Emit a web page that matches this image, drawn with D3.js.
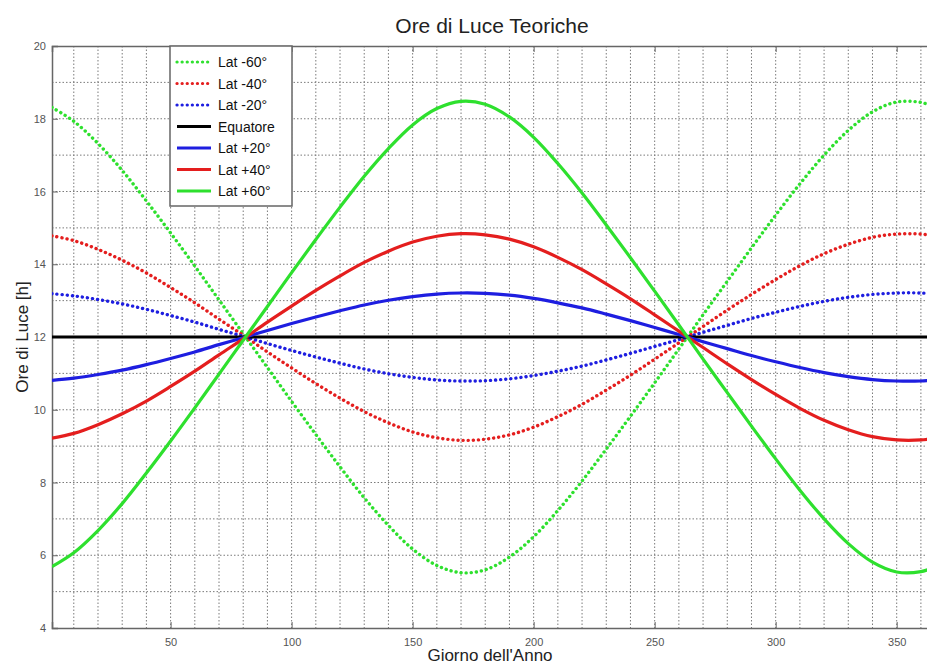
<!DOCTYPE html>
<html>
<head>
<meta charset="utf-8">
<script src="https://cdn.jsdelivr.net/npm/d3@7"></script>
<style>
  body { margin: 0; background: #fff; }
  svg { display: block; font-family: "Liberation Sans", Arial, sans-serif; }
</style>
</head>
<body>
<svg id="chart"></svg>
<script>
// giorni campionati
const days = [1, 10, 20, 30, 40, 50, 60, 70, 80, 90, 100, 110, 120, 130, 140, 150, 160, 170, 180,
  190, 200, 210, 220, 230, 240, 250, 260, 270, 280, 290, 300, 310, 320, 330, 340, 350, 360, 365];

const latP60 = [5.69, 6.07, 6.68, 7.42, 8.26, 9.14, 10.05, 10.98, 11.91, 12.84, 13.77, 14.68, 15.57,
  16.42, 17.18, 17.83, 18.28, 18.48, 18.40, 18.05, 17.49, 16.77, 15.96, 15.08, 14.18, 13.26, 12.33,
  11.39, 10.47, 9.55, 8.65, 7.79, 7.00, 6.32, 5.81, 5.54, 5.55, 5.66];
const latP40 = [9.22, 9.35, 9.59, 9.89, 10.24, 10.64, 11.06, 11.51, 11.95, 12.41, 12.85, 13.28, 13.68,
  14.05, 14.36, 14.61, 14.77, 14.84, 14.81, 14.69, 14.48, 14.19, 13.85, 13.46, 13.05, 12.61, 12.16,
  11.71, 11.26, 10.83, 10.42, 10.04, 9.71, 9.45, 9.26, 9.17, 9.17, 9.21];
const latP20 = [10.81, 10.87, 10.97, 11.09, 11.24, 11.41, 11.59, 11.79, 11.98, 12.18, 12.37, 12.55, 12.72,
  12.88, 13.01, 13.11, 13.18, 13.21, 13.20, 13.15, 13.06, 12.94, 12.80, 12.63, 12.45, 12.26, 12.07,
  11.87, 11.68, 11.49, 11.32, 11.16, 11.02, 10.91, 10.83, 10.79, 10.79, 10.81];
const equatore = [12, 12, 12, 12, 12, 12, 12, 12, 12, 12, 12, 12, 12, 12, 12, 12, 12, 12, 12,
  12, 12, 12, 12, 12, 12, 12, 12, 12, 12, 12, 12, 12, 12, 12, 12, 12, 12, 12];
const latM20 = [13.19, 13.13, 13.03, 12.91, 12.76, 12.59, 12.41, 12.21, 12.02, 11.82, 11.63, 11.45, 11.28,
  11.12, 10.99, 10.89, 10.82, 10.79, 10.80, 10.85, 10.94, 11.06, 11.20, 11.37, 11.55, 11.74, 11.93,
  12.13, 12.32, 12.51, 12.68, 12.84, 12.98, 13.09, 13.17, 13.21, 13.21, 13.19];
const latM40 = [14.78, 14.65, 14.41, 14.11, 13.76, 13.36, 12.94, 12.49, 12.05, 11.59, 11.15, 10.72, 10.32,
  9.95, 9.64, 9.39, 9.23, 9.16, 9.19, 9.31, 9.52, 9.81, 10.15, 10.54, 10.95, 11.39, 11.84,
  12.29, 12.74, 13.17, 13.58, 13.96, 14.29, 14.55, 14.74, 14.83, 14.83, 14.79];
const latM60 = [18.31, 17.93, 17.32, 16.58, 15.74, 14.86, 13.95, 13.02, 12.09, 11.16, 10.23, 9.32, 8.43,
  7.58, 6.82, 6.17, 5.72, 5.52, 5.60, 5.95, 6.51, 7.23, 8.04, 8.92, 9.82, 10.74, 11.67,
  12.61, 13.53, 14.45, 15.35, 16.21, 17.00, 17.68, 18.19, 18.46, 18.45, 18.34];

const seriesNames = ["Lat -60°", "Lat -40°", "Lat -20°", "Equatore", "Lat +20°", "Lat +40°", "Lat +60°"];
const seriesValues = [latM60, latM40, latM20, equatore, latP20, latP40, latP60];
const seriesColors = ["#2ee02e", "#e41e1e", "#1e1ee0", "#000000", "#1e1ee0", "#e41e1e", "#2ee02e"];
const seriesDotted = [true, true, true, false, false, false, false];

const xTicks = [50, 100, 150, 200, 250, 300, 350];
const yTicks = [4, 6, 8, 10, 12, 14, 16, 18, 20];

const W = 927, H = 664;
const mLeft = 52, mTop = 46, mRight = 933, mBottom = 628;

const svg = d3.select("#chart").attr("width", W).attr("height", H);

const x = d3.scaleLinear().domain([1, 365]).range([mLeft, mRight]);
const y = d3.scaleLinear().domain([4, 20]).range([mBottom, mTop]);

svg.append("clipPath").attr("id", "clip")
  .append("rect").attr("x", mLeft).attr("y", mTop).attr("width", mRight - mLeft).attr("height", mBottom - mTop);

// griglia
const grid = svg.append("g").attr("stroke", "#7a7a7a").attr("stroke-width", 1).attr("stroke-dasharray", "1.5,2");
grid.selectAll(".vg").data(d3.range(10, 365, 10)).enter().append("line")
  .attr("x1", d => x(d)).attr("x2", d => x(d)).attr("y1", mTop).attr("y2", mBottom);
grid.selectAll(".hg").data(d3.range(5, 20, 1)).enter().append("line")
  .attr("y1", d => y(d)).attr("y2", d => y(d)).attr("x1", mLeft).attr("x2", mRight);

// assi
const xAxis = svg.append("g").attr("transform", `translate(0,${mBottom})`)
  .call(d3.axisBottom(x).tickValues(xTicks).tickSize(-6).tickPadding(10));
const xAxisTop = svg.append("g").attr("transform", `translate(0,${mTop})`)
  .call(d3.axisTop(x).tickValues(xTicks).tickSize(-6).tickFormat(""));
const yAxis = svg.append("g").attr("transform", `translate(${mLeft},0)`)
  .call(d3.axisLeft(y).tickValues(yTicks).tickSize(-6).tickPadding(6));

[xAxis, xAxisTop, yAxis].forEach(a => {
  a.select(".domain").attr("stroke", "#666").attr("stroke-width", 1.5);
  a.selectAll(".tick line").attr("stroke", "#666");
  a.selectAll("text").attr("fill", "#555").style("font-size", "11px")
    .style("font-family", "'Liberation Sans', Arial, sans-serif");
});

// curve
const line = d3.line().x((d, i) => x(days[i])).y(d => y(d)).curve(d3.curveCatmullRom);
const curves = svg.append("g").attr("clip-path", "url(#clip)");
seriesValues.forEach((vals, k) => {
  const p = curves.append("path").datum(vals)
    .attr("fill", "none")
    .attr("stroke", seriesColors[k])
    .attr("d", line);
  if (seriesDotted[k]) {
    p.attr("stroke-width", 3.4).attr("stroke-linecap", "round").attr("stroke-dasharray", "0.1,5");
  } else {
    p.attr("stroke-width", 3.2);
  }
});

// titolo ed etichette
svg.append("text").attr("x", 492).attr("y", 33).attr("text-anchor", "middle")
  .style("font-size", "21px").attr("fill", "#222").text("Ore di Luce Teoriche");
svg.append("text").attr("x", 490).attr("y", 661).attr("text-anchor", "middle")
  .style("font-size", "17px").attr("fill", "#222").text("Giorno dell'Anno");
svg.append("text").attr("transform", `translate(28,${y(12)}) rotate(-90)`).attr("text-anchor", "middle")
  .style("font-size", "17px").attr("fill", "#222").text("Ore di Luce [h]");

// legenda
const leg = svg.append("g").attr("transform", "translate(170,46)");
leg.append("rect").attr("width", 122).attr("height", 160)
  .attr("fill", "#fff").attr("stroke", "#666").attr("stroke-width", 1.5);
seriesNames.forEach((name, k) => {
  const yy = 16 + k * 21.5;
  const l = leg.append("line").attr("x1", 7).attr("x2", 41).attr("y1", yy).attr("y2", yy)
    .attr("stroke", seriesColors[k]).attr("stroke-width", 3.2);
  if (seriesDotted[k]) l.attr("stroke-linecap", "round").attr("stroke-dasharray", "0.1,5");
  leg.append("text").attr("x", 48).attr("y", yy + 5).style("font-size", "14px").attr("fill", "#111").text(name);
});
</script>
</body>
</html>
